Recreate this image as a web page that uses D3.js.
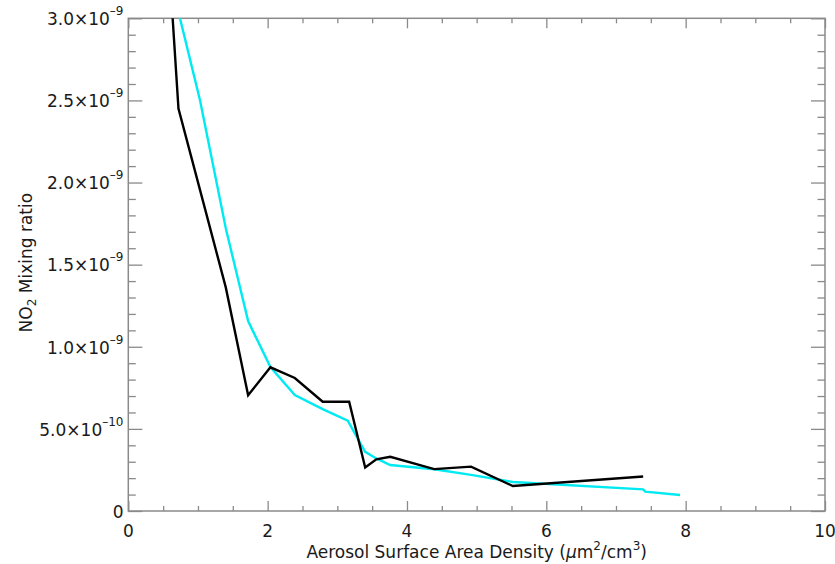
<!DOCTYPE html>
<html><head><meta charset="utf-8">
<script src="https://cdn.jsdelivr.net/npm/d3@7"></script>
<style>body{margin:0;background:#fff}svg{display:block}text{font-family:"DejaVu Sans",sans-serif}</style>
</head><body>
<svg id="c" width="835" height="564"></svg>
<script>
const blackX = [0.5, 0.72, 1.07, 1.40, 1.72, 2.04, 2.39, 2.79, 3.17, 3.40, 3.56, 3.76, 4.39, 4.92, 5.52, 7.39];
const blackY = [3.9e-9, 2.45e-9, 1.89e-9, 1.36e-9, 0.705e-9, 0.875e-9, 0.81e-9, 0.665e-9, 0.665e-9, 0.265e-9, 0.315e-9, 0.33e-9, 0.255e-9, 0.27e-9, 0.152e-9, 0.21e-9];
const cyanX = [0.5, 1.03, 1.40, 1.72, 2.04, 2.39, 2.79, 3.15, 3.40, 3.56, 3.76, 4.39, 4.92, 5.52, 7.39, 7.42, 7.92];
const cyanY = [3.42e-9, 2.50e-9, 1.72e-9, 1.156e-9, 0.876e-9, 0.706e-9, 0.62e-9, 0.55e-9, 0.36e-9, 0.32e-9, 0.28e-9, 0.254e-9, 0.22e-9, 0.177e-9, 0.132e-9, 0.118e-9, 0.097e-9];
const xMajor = [0, 2, 4, 6, 8, 10];
const yMajor = [0, 5e-10, 1e-9, 1.5e-9, 2e-9, 2.5e-9, 3e-9];
const yLabels = [["0", ""], ["5.0×10", "–10"], ["1.0×10", "–9"], ["1.5×10", "–9"], ["2.0×10", "–9"], ["2.5×10", "–9"], ["3.0×10", "–9"]];

const L = 128.3, R = 825, T = 18.3, B = 511;
const svg = d3.select("#c");
const x = d3.scaleLinear().domain([0, 10]).range([L, R]);
const y = d3.scaleLinear().domain([0, 3e-9]).range([B, T]);
const xMinor = d3.range(0, 10.001, 0.5).filter(v => Math.abs(v % 2) > 1e-9);
const yMinor = d3.range(0, 30.5, 1).map(v => v * 1e-10).filter((v, i) => i % 5 !== 0);
const axisCol = "#8a8a8a";
const txtCol = "#1a1a1a";

svg.append("clipPath").attr("id", "clip").append("rect")
  .attr("x", L).attr("y", T).attr("width", R - L).attr("height", B - T);

function styleAxis(g) {
  g.select(".domain").remove();
  g.selectAll(".tick line").attr("stroke", axisCol).attr("stroke-width", 1.3);
}
svg.append("g").attr("transform", `translate(0,${B})`)
  .call(d3.axisBottom(x).tickValues(xMajor).tickSize(-10).tickFormat("")).call(styleAxis);
svg.append("g").attr("transform", `translate(0,${B})`)
  .call(d3.axisBottom(x).tickValues(xMinor).tickSize(-5).tickFormat("")).call(styleAxis);
svg.append("g").attr("transform", `translate(0,${T})`)
  .call(d3.axisTop(x).tickValues(xMajor).tickSize(-10).tickFormat("")).call(styleAxis);
svg.append("g").attr("transform", `translate(0,${T})`)
  .call(d3.axisTop(x).tickValues(xMinor).tickSize(-5).tickFormat("")).call(styleAxis);
svg.append("g").attr("transform", `translate(${L},0)`)
  .call(d3.axisLeft(y).tickValues(yMajor).tickSize(-14).tickFormat("")).call(styleAxis);
svg.append("g").attr("transform", `translate(${L},0)`)
  .call(d3.axisLeft(y).tickValues(yMinor).tickSize(-7.5).tickFormat("")).call(styleAxis);
svg.append("g").attr("transform", `translate(${R},0)`)
  .call(d3.axisRight(y).tickValues(yMajor).tickSize(-14).tickFormat("")).call(styleAxis);
svg.append("g").attr("transform", `translate(${R},0)`)
  .call(d3.axisRight(y).tickValues(yMinor).tickSize(-7.5).tickFormat("")).call(styleAxis);

svg.append("rect").attr("x", L).attr("y", T).attr("width", R - L).attr("height", B - T)
  .attr("fill", "none").attr("stroke", axisCol).attr("stroke-width", 1.5);

svg.append("g").selectAll("text").data(xMajor).join("text")
  .attr("x", d => x(d)).attr("y", 537).attr("text-anchor", "middle")
  .attr("font-size", 17).attr("fill", txtCol).text(d => d);

const yl = svg.append("g").selectAll("text").data(yMajor).join("text")
  .attr("x", 123.5).attr("y", d => y(d) + 6.8).attr("text-anchor", "end")
  .attr("font-size", 17).attr("fill", txtCol);
yl.each(function(d, i) {
  const t = d3.select(this);
  t.append("tspan").text(yLabels[i][0]);
  if (yLabels[i][1]) t.append("tspan").attr("font-size", 12).attr("dy", -10).text(yLabels[i][1]);
});

const xt = svg.append("text").attr("x", (L + R) / 2).attr("y", 558).attr("text-anchor", "middle")
  .attr("font-size", 17).attr("fill", txtCol);
xt.append("tspan").text("Aerosol Surface Area Density (");
xt.append("tspan").attr("font-style", "italic").text("μ");
xt.append("tspan").text("m");
xt.append("tspan").attr("font-size", 12).attr("dy", -8).text("2");
xt.append("tspan").attr("dy", 8).text("/cm");
xt.append("tspan").attr("font-size", 12).attr("dy", -8).text("3");
xt.append("tspan").attr("dy", 8).text(")");

const yt = svg.append("text").attr("transform", `translate(32,${(T + B) / 2 - 2}) rotate(-90)`)
  .attr("text-anchor", "middle").attr("font-size", 17).attr("fill", txtCol);
yt.append("tspan").text("NO");
yt.append("tspan").attr("font-size", 12).attr("dy", 4).text("2");
yt.append("tspan").attr("dy", -4).text(" Mixing ratio");

const line = d3.line().x(d => x(d[0])).y(d => y(d[1]));
const g = svg.append("g").attr("clip-path", "url(#clip)");
g.append("path").datum(cyanX.map((v, i) => [v, cyanY[i]]))
  .attr("d", line).attr("fill", "none").attr("stroke", "#00eaf2").attr("stroke-width", 2.4);
g.append("path").datum(blackX.map((v, i) => [v, blackY[i]]))
  .attr("d", line).attr("fill", "none").attr("stroke", "#000").attr("stroke-width", 2.4);
</script>
</body></html>
